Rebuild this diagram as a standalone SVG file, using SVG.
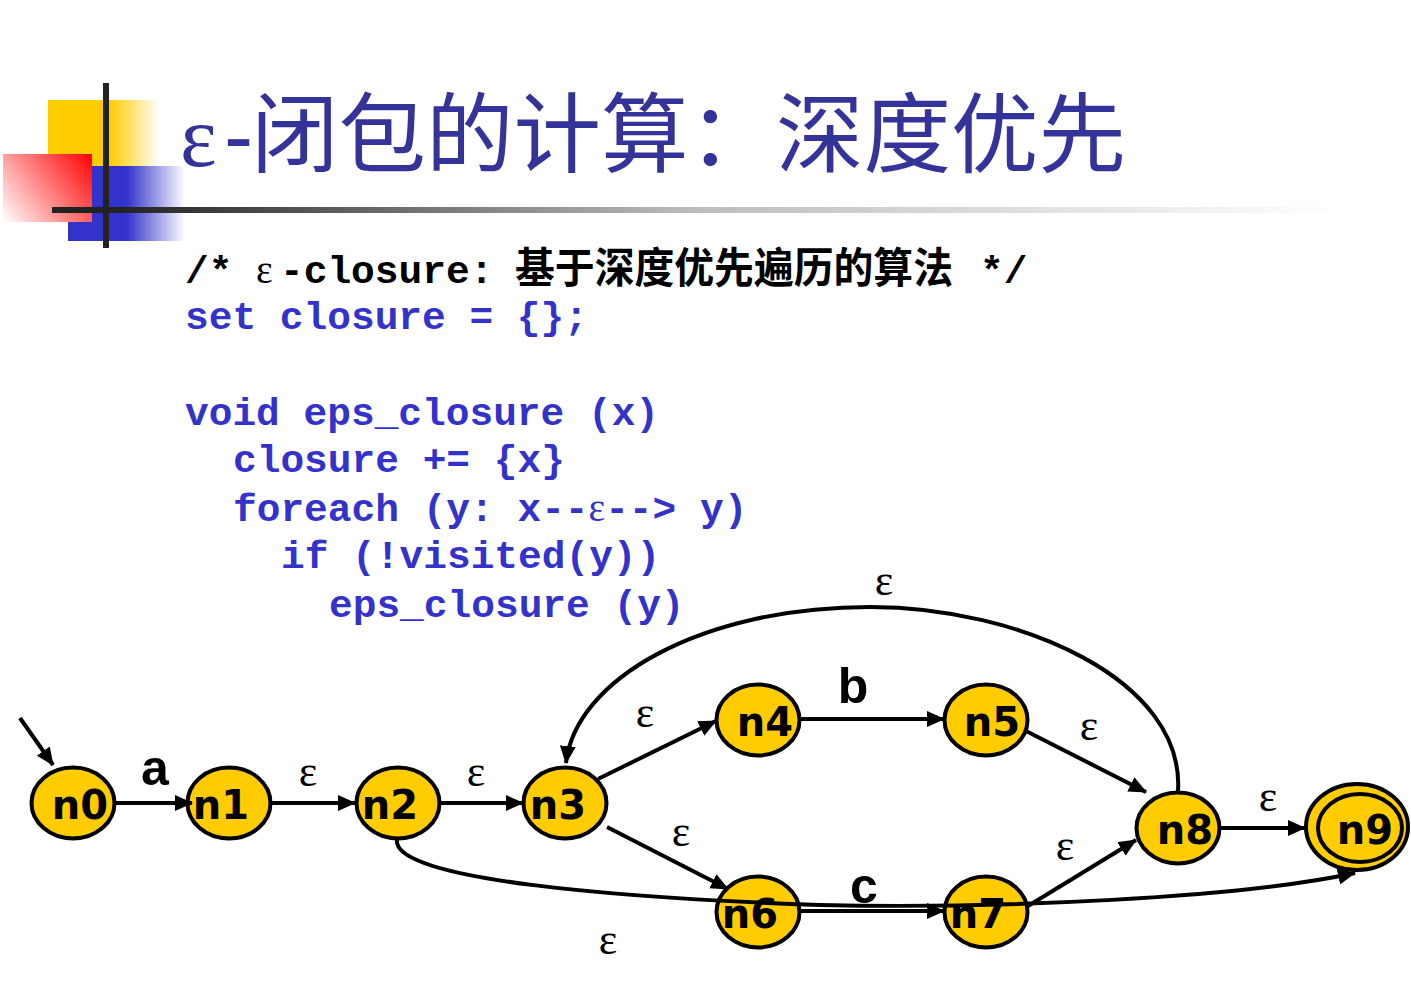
<svg xmlns="http://www.w3.org/2000/svg" width="1411" height="1002" viewBox="0 0 1411 1002">
<style>
.node ellipse{fill:#FFCC00;stroke:#000;stroke-width:4}
.node text{font-family:"DejaVu Sans",sans-serif;font-weight:bold;font-size:40px;fill:#000;text-anchor:middle}
.edge{fill:none;stroke:#000;stroke-width:4}
.eps{font-family:"Liberation Serif",serif;font-size:44px;fill:#000;text-anchor:middle}
.sym{font-family:"Liberation Sans",sans-serif;font-weight:bold;font-size:50px;fill:#000;text-anchor:middle}
.code{font-family:"Liberation Mono",monospace;font-weight:bold;font-size:39.5px;fill:#3333CC}
</style>
<defs>
<marker id="arr" viewBox="0 0 18 16" refX="17" refY="8" markerWidth="18" markerHeight="16" markerUnits="userSpaceOnUse" orient="auto">
<path d="M0,0 L18,8 L0,16 Z" fill="#000"/>
</marker>
<linearGradient id="gy" x1="48" y1="0" x2="160" y2="0" gradientUnits="userSpaceOnUse">
<stop offset="0" stop-color="#FFCC00"/><stop offset="0.55" stop-color="#FFCC00"/><stop offset="1" stop-color="#FFCC00" stop-opacity="0"/>
</linearGradient>
<linearGradient id="gb" x1="68" y1="0" x2="185" y2="0" gradientUnits="userSpaceOnUse">
<stop offset="0" stop-color="#3333CC"/><stop offset="0.5" stop-color="#3333CC"/><stop offset="1" stop-color="#3333CC" stop-opacity="0"/>
</linearGradient>
<linearGradient id="gr" x1="3" y1="222" x2="92" y2="154" gradientUnits="userSpaceOnUse">
<stop offset="0" stop-color="#FFFFFF"/><stop offset="1" stop-color="#FF0000"/>
</linearGradient>
<linearGradient id="gl" x1="52" y1="0" x2="1340" y2="0" gradientUnits="userSpaceOnUse">
<stop offset="0" stop-color="#222222"/><stop offset="0.05" stop-color="#222222"/><stop offset="0.27" stop-color="#6e6e6e"/><stop offset="0.5" stop-color="#bdbdbd"/><stop offset="1" stop-color="#ffffff"/>
</linearGradient>
</defs>
<rect width="1411" height="1002" fill="#fff"/>
<g id="decoration">
<rect x="48" y="100" width="112" height="66" fill="url(#gy)"/>
<rect x="68" y="166" width="117" height="75" fill="url(#gb)"/>
<rect x="3" y="154" width="89" height="68" fill="url(#gr)"/>
<rect x="52" y="207" width="1288" height="6" fill="url(#gl)"/>
<rect x="103" y="83" width="6" height="165" fill="#222"/>
</g>
<text id="title" y="166" font-size="87.5" fill="#333399"><tspan x="180" font-family="Liberation Serif, serif">ε</tspan><tspan x="224" font-family="Liberation Sans, sans-serif">-</tspan><tspan x="251" font-family="Noto Sans CJK SC, sans-serif">闭包的计算：深度优先</tspan></text>
<g id="code">
<text class="code" y="283" style="fill:#000"><tspan x="185">/*</tspan><tspan x="256" font-family="Liberation Serif, serif" font-weight="normal">ε</tspan><tspan x="280">-closure:</tspan></text>
<text x="515" y="283" font-family="Noto Sans CJK SC, sans-serif" font-weight="bold" font-size="42" fill="#000" textLength="438" lengthAdjust="spacingAndGlyphs">基于深度优先遍历的算法</text>
<text class="code" x="980" y="283" style="fill:#000">*/</text>
<text class="code" x="185" y="329">set closure = {};</text>
<text class="code" x="185" y="425">void eps_closure (x)</text>
<text class="code" x="233" y="472">closure += {x}</text>
<text class="code" y="521"><tspan x="233">foreach (y: x--</tspan><tspan font-family="Liberation Serif, serif" font-weight="normal">ε</tspan><tspan>--&gt; y)</tspan></text>
<text class="code" x="281" y="568">if (!visited(y))</text>
<text class="code" x="329" y="617">eps_closure (y)</text>
</g>
<g id="n0" class="node"><ellipse cx="73" cy="803" rx="41.5" ry="35.5"/><text x="80" y="819">n0</text></g>
<g id="n1" class="node"><ellipse cx="229" cy="803" rx="41.5" ry="35.5"/><text x="221" y="819">n1</text></g>
<g id="n2" class="node"><ellipse cx="398" cy="803" rx="41.5" ry="35.5"/><text x="390" y="819">n2</text></g>
<g id="n3" class="node"><ellipse cx="565" cy="803" rx="41.5" ry="35.5"/><text x="558" y="819">n3</text></g>
<g id="n4" class="node"><ellipse cx="758" cy="720" rx="41.5" ry="35.5"/><text x="765" y="736">n4</text></g>
<g id="n5" class="node"><ellipse cx="986" cy="720" rx="41.5" ry="35.5"/><text x="992" y="736">n5</text></g>
<g id="n6" class="node"><ellipse cx="758" cy="912" rx="41.5" ry="35.5"/><text x="750" y="928">n6</text></g>
<g id="n7" class="node"><ellipse cx="986" cy="912" rx="41.5" ry="35.5"/><text x="978" y="928">n7</text></g>
<g id="n8" class="node"><ellipse cx="1178" cy="828" rx="41.5" ry="35.5"/><text x="1185" y="844">n8</text></g>
<g id="n9" class="node"><ellipse cx="1357" cy="827" rx="51" ry="43"/><ellipse cx="1360" cy="828" rx="42" ry="34"/><text x="1365" y="844">n9</text></g>
<g id="connectors">
<line class="edge" x1="20" y1="718" x2="53" y2="765" marker-end="url(#arr)"/>
<line class="edge" x1="115" y1="803" x2="192" y2="803" marker-end="url(#arr)"/>
<line class="edge" x1="271" y1="803" x2="355" y2="803" marker-end="url(#arr)"/>
<line class="edge" x1="440" y1="803" x2="523" y2="803" marker-end="url(#arr)"/>
<line class="edge" x1="598" y1="779" x2="716" y2="721" marker-end="url(#arr)"/>
<line class="edge" x1="800" y1="719" x2="944" y2="719" marker-end="url(#arr)"/>
<line class="edge" x1="1026" y1="731" x2="1146" y2="792" marker-end="url(#arr)"/>
<line class="edge" x1="607" y1="827" x2="728" y2="889" marker-end="url(#arr)"/>
<line class="edge" x1="800" y1="911" x2="944" y2="911" marker-end="url(#arr)"/>
<line class="edge" x1="1028" y1="906" x2="1136" y2="840" marker-end="url(#arr)"/>
<line class="edge" x1="1220" y1="828" x2="1305" y2="828" marker-end="url(#arr)"/>
<path class="edge" d="M1178,791 C1185,680 1020,607 870,607 C700,607 575,680 566,763" marker-end="url(#arr)"/>
<path class="edge" d="M397,840 C392,880 620,898 820,905 C1000,909 1240,898 1355,873" marker-end="url(#arr)"/>
</g>
<g id="labels">
<text class="sym" x="155" y="785">a</text>
<text class="eps" x="308" y="786">ε</text>
<text class="eps" x="476" y="786">ε</text>
<text class="eps" x="645" y="727">ε</text>
<text class="sym" x="853" y="703">b</text>
<text class="eps" x="1089" y="740">ε</text>
<text class="eps" x="884" y="595">ε</text>
<text class="eps" x="681" y="846">ε</text>
<text class="sym" x="864" y="903">c</text>
<text class="eps" x="1065" y="860">ε</text>
<text class="eps" x="1268" y="811">ε</text>
<text class="eps" x="608" y="954">ε</text>
</g>
</svg>
